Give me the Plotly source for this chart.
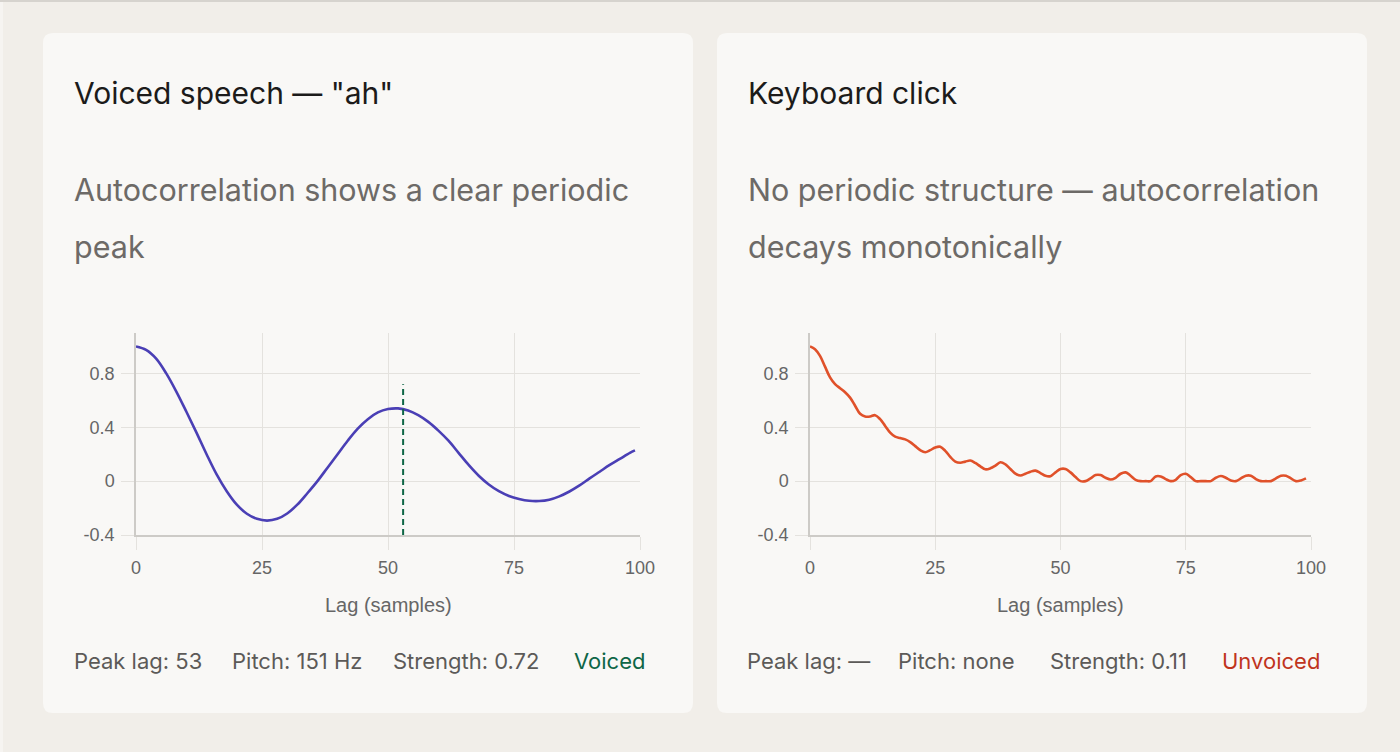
import plotly.graph_objects as go

W, H = 1400, 752

# voiced "ah": autocorrelation (every 2 lags)
voiced_lag = [0, 2, 4, 6, 8, 10, 12, 14, 16, 18, 20, 22, 24, 26, 28, 30, 32, 34, 36, 38,
              40, 42, 44, 46, 48, 50, 52, 54, 56, 58, 60, 62, 64, 66, 68, 70, 72, 74, 76,
              78, 80, 82, 84, 86, 88, 90, 92, 94, 96, 98, 99]
voiced_acf = [1.00, 0.975, 0.91, 0.80, 0.665, 0.515, 0.36, 0.20, 0.05, -0.075, -0.175,
              -0.242, -0.28, -0.293, -0.28, -0.24, -0.175, -0.09, 0.0, 0.10,
              0.20, 0.30, 0.39, 0.46, 0.51, 0.535, 0.54, 0.525, 0.49, 0.44,
              0.375, 0.30, 0.21, 0.12, 0.04, -0.025, -0.075, -0.11, -0.132, -0.146,
              -0.148, -0.138, -0.113, -0.077, -0.032, 0.02, 0.07, 0.12, 0.165, 0.21, 0.228]

# keyboard click: autocorrelation, one value per lag
click_lag = list(range(100))
click_acf = [1.00, 0.98, 0.93, 0.85, 0.77, 0.72, 0.69, 0.66, 0.62, 0.56,
             0.50, 0.48, 0.48, 0.49, 0.46, 0.41, 0.36, 0.33, 0.32, 0.31,
             0.29, 0.26, 0.23, 0.215, 0.23, 0.25, 0.255, 0.225, 0.18, 0.145,
             0.137, 0.145, 0.153, 0.135, 0.11, 0.088, 0.095, 0.115, 0.14, 0.125,
             0.09, 0.055, 0.042, 0.055, 0.07, 0.078, 0.06, 0.04, 0.037, 0.065,
             0.09, 0.09, 0.065, 0.03, 0.0, 0.0, 0.02, 0.045, 0.045, 0.025,
             0.012, 0.025, 0.055, 0.065, 0.04, 0.01, 0.0, 0.0, 0.0, 0.035,
             0.035, 0.015, 0.0, 0.01, 0.045, 0.055, 0.03, 0.0, 0.0, 0.0,
             0.0, 0.025, 0.038, 0.025, 0.005, 0.0, 0.02, 0.04, 0.04, 0.015,
             0.0, 0.0, 0.0, 0.02, 0.04, 0.04, 0.02, 0.0, 0.005, 0.02]

peak_lag = 53
peak_strength = 0.72

x_ticks = [0, 25, 50, 75, 100]
y_ticks = [-0.4, 0, 0.4, 0.8]
y_tick_text = ["-0.4", "0", "0.4", "0.8"]

titles = ['Voiced speech — "ah"', "Keyboard click"]
subtitles = [["Autocorrelation shows a clear periodic", "peak"],
             ["No periodic structure — autocorrelation", "decays monotonically"]]
stat_labels = [["Peak lag: 53", "Pitch: 151 Hz", "Strength: 0.72"],
               ["Peak lag: —", "Pitch: none", "Strength: 0.11"]]
verdicts = ["Voiced", "Unvoiced"]

BG = "#f1eee9"
CARD = "#f9f8f6"
GRID = "#e4e2de"
AXIS = "#cdcbc7"
PURPLE = "#4a3fb5"
ORANGE = "#e0512a"
GREEN = "#0e6646"
RED = "#c0341d"
TEXT_FONT = "Inter"
TICK_FONT = "Liberation Sans"


def px(x):
    return x / W


def py(y):
    return 1 - y / H


def card_path(x0, y0, x1, y1, r=10):
    # rounded rectangle in paper coords, pixels in
    rx, ry = r / W, r / H
    a, b, c, d = px(x0), px(x1), py(y0), py(y1)
    return (f"M{a + rx},{c} L{b - rx},{c} Q{b},{c} {b},{c - ry} "
            f"L{b},{d + ry} Q{b},{d} {b - rx},{d} L{a + rx},{d} "
            f"Q{a},{d} {a},{d + ry} L{a},{c - ry} Q{a},{c} {a + rx},{c} Z")


fig = go.Figure()

fig.add_trace(go.Scatter(x=voiced_lag, y=voiced_acf, mode="lines", line_shape="spline",
                         line=dict(color=PURPLE, width=2.6), xaxis="x", yaxis="y",
                         hoverinfo="skip"))
fig.add_trace(go.Scatter(x=[peak_lag, peak_lag], y=[-0.4, peak_strength], mode="lines",
                         line=dict(color=GREEN, width=2, dash="6px,4px"), xaxis="x", yaxis="y",
                         hoverinfo="skip"))
fig.add_trace(go.Scatter(x=click_lag, y=click_acf, mode="lines", line_shape="spline",
                         line=dict(color=ORANGE, width=2.6), xaxis="x2", yaxis="y2",
                         hoverinfo="skip"))

shapes = [
    dict(type="rect", xref="paper", yref="paper", x0=0, x1=1, y0=py(2), y1=1,
         fillcolor="#d6d3ce", line_width=0, layer="below"),
    dict(type="rect", xref="paper", yref="paper", x0=0, x1=px(3), y0=0, y1=py(2),
         fillcolor="#f6f4f1", line_width=0, layer="below"),
]
card_x = [(43, 693), (717, 1367)]
for x0, x1 in card_x:
    shapes.append(dict(type="path", path=card_path(x0, 33, x1, 713), xref="paper", yref="paper",
                       fillcolor=CARD, line_width=0, layer="below"))

ann = []
stat_x = [[72, 230, 391], [745, 896, 1048]]
verdict_x = [572, 1220]
verdict_col = [GREEN, RED]
plot_mid = [388, 1060]
for i, (x0, x1) in enumerate(card_x):
    tx = x0 + 29
    ann.append(dict(text=titles[i], x=px(tx), y=py(93), xanchor="left", yanchor="middle",
                    font=dict(family=TEXT_FONT, size=30, color="#1c1b1a")))
    for j, line in enumerate(subtitles[i]):
        ann.append(dict(text=line, x=px(tx), y=py(189 + 57 * j), xanchor="left", yanchor="middle",
                        font=dict(family=TEXT_FONT, size=30.5, color="#6d6a67")))
    for sx, s in zip(stat_x[i], stat_labels[i]):
        ann.append(dict(text=s, x=px(sx), y=py(661), xanchor="left", yanchor="middle",
                        font=dict(family=TEXT_FONT, size=22, color="#5c5a58")))
    ann.append(dict(text=verdicts[i], x=px(verdict_x[i]), y=py(661), xanchor="left",
                    yanchor="middle", font=dict(family=TEXT_FONT, size=22, color=verdict_col[i])))
    ann.append(dict(text="Lag (samples)", x=px(plot_mid[i]), y=py(605), xanchor="center",
                    yanchor="middle", font=dict(family=TICK_FONT, size=20, color="#666666")))
for a in ann:
    a.update(xref="paper", yref="paper", showarrow=False)

xcommon = dict(range=[0, 100], tickvals=x_ticks, showgrid=True, gridcolor=GRID, gridwidth=1,
               showline=True, linecolor=AXIS, linewidth=1.5, ticks="outside", ticklen=13,
               tickcolor=GRID, zeroline=False, ticklabelstandoff=3, fixedrange=True,
               tickfont=dict(family=TICK_FONT, size=18, color="#666666"))
ycommon = dict(range=[-0.4, 1.1], tickvals=y_ticks, ticktext=y_tick_text, showgrid=True,
               gridcolor=GRID, gridwidth=1, showline=True, linecolor=AXIS, linewidth=1.5,
               ticks="outside", ticklen=13, tickcolor=GRID, zeroline=False,
               ticklabelstandoff=3, fixedrange=True,
               tickfont=dict(family=TICK_FONT, size=18, color="#666666"))

fig.update_layout(
    width=W, height=H,
    margin=dict(l=0, r=0, t=0, b=0, pad=0, autoexpand=False),
    paper_bgcolor=BG, plot_bgcolor=CARD,
    showlegend=False,
    xaxis=dict(domain=[px(136), px(640)], anchor="y", **xcommon),
    yaxis=dict(domain=[py(535), py(333)], anchor="x", **ycommon),
    xaxis2=dict(domain=[px(810), px(1311)], anchor="y2", **xcommon),
    yaxis2=dict(domain=[py(535), py(333)], anchor="x2", **ycommon),
    shapes=shapes,
    annotations=ann,
)

fig.write_html("out.html", config={"displayModeBar": False},
               post_script="document.body.style.margin='0';")
